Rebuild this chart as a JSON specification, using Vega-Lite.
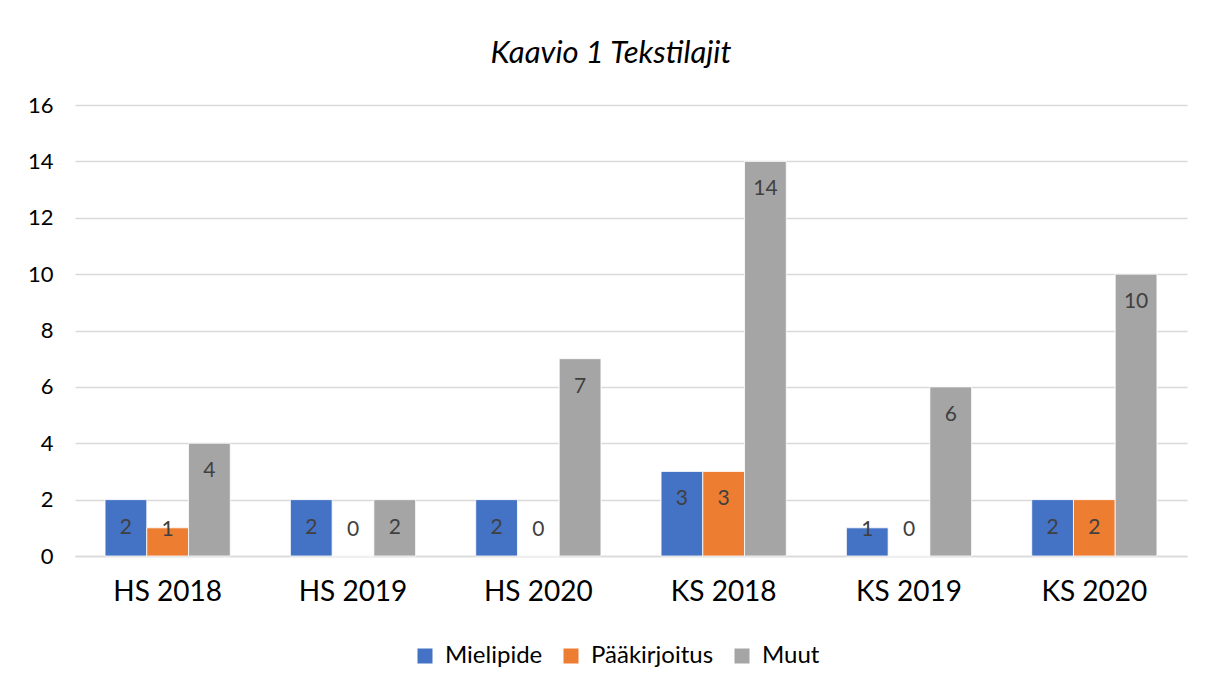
{
  "$schema": "https://vega.github.io/schema/vega-lite/v6.json",
  "width": 1112,
  "height": 451,
  "autosize": {"type": "none"},
  "padding": {"left": 75, "top": 105, "right": 27, "bottom": 130},
  "background": "white",
  "view": {"stroke": null},
  "title": {
    "text": "Kaavio 1 Tekstilajit",
    "font": "Lato",
    "fontStyle": "italic",
    "fontWeight": "normal",
    "fontSize": 31,
    "color": "#000000",
    "anchor": "middle",
    "frame": "group",
    "dx": -20,
    "offset": 24
  },
  "data": {
    "values": [
      {"ryhma": "HS 2018", "sarja": "Mielipide", "arvo": 2},
      {"ryhma": "HS 2018", "sarja": "Pääkirjoitus", "arvo": 1},
      {"ryhma": "HS 2018", "sarja": "Muut", "arvo": 4},
      {"ryhma": "HS 2019", "sarja": "Mielipide", "arvo": 2},
      {"ryhma": "HS 2019", "sarja": "Pääkirjoitus", "arvo": 0},
      {"ryhma": "HS 2019", "sarja": "Muut", "arvo": 2},
      {"ryhma": "HS 2020", "sarja": "Mielipide", "arvo": 2},
      {"ryhma": "HS 2020", "sarja": "Pääkirjoitus", "arvo": 0},
      {"ryhma": "HS 2020", "sarja": "Muut", "arvo": 7},
      {"ryhma": "KS 2018", "sarja": "Mielipide", "arvo": 3},
      {"ryhma": "KS 2018", "sarja": "Pääkirjoitus", "arvo": 3},
      {"ryhma": "KS 2018", "sarja": "Muut", "arvo": 14},
      {"ryhma": "KS 2019", "sarja": "Mielipide", "arvo": 1},
      {"ryhma": "KS 2019", "sarja": "Pääkirjoitus", "arvo": 0},
      {"ryhma": "KS 2019", "sarja": "Muut", "arvo": 6},
      {"ryhma": "KS 2020", "sarja": "Mielipide", "arvo": 2},
      {"ryhma": "KS 2020", "sarja": "Pääkirjoitus", "arvo": 2},
      {"ryhma": "KS 2020", "sarja": "Muut", "arvo": 10}
    ]
  },
  "encoding": {
    "x": {
      "field": "ryhma",
      "type": "nominal",
      "sort": ["HS 2018", "HS 2019", "HS 2020", "KS 2018", "KS 2019", "KS 2020"],
      "scale": {"paddingInner": 0, "paddingOuter": 0},
      "axis": {
        "title": null,
        "labelAngle": 0,
        "labelFont": "Lato",
        "labelFontSize": 28,
        "labelColor": "#000000",
        "labelPadding": 22,
        "ticks": false,
        "domain": true,
        "domainColor": "#D9D9D9",
        "domainWidth": 1.5,
        "grid": false
      }
    },
    "xOffset": {
      "field": "sarja",
      "type": "nominal",
      "sort": ["Mielipide", "Pääkirjoitus", "Muut"],
      "scale": {"paddingInner": 0, "paddingOuter": 0.72}
    }
  },
  "layer": [
    {
      "mark": {"type": "bar", "stroke": "white", "strokeWidth": 0.8},
      "encoding": {
        "y": {
          "field": "arvo",
          "type": "quantitative",
          "scale": {"domain": [0, 16], "nice": false},
          "axis": {
            "title": null,
            "values": [0, 2, 4, 6, 8, 10, 12, 14, 16],
            "labelFont": "Lato",
            "labelFontSize": 22,
            "labelColor": "#000000",
            "labelPadding": 22,
            "ticks": false,
            "domain": false,
            "grid": true,
            "gridColor": "#D9D9D9",
            "gridWidth": 1.5
          }
        },
        "color": {
          "field": "sarja",
          "type": "nominal",
          "sort": ["Mielipide", "Pääkirjoitus", "Muut"],
          "scale": {
            "domain": ["Mielipide", "Pääkirjoitus", "Muut"],
            "range": ["#4472C4", "#ED7D31", "#A5A5A5"]
          },
          "legend": {
            "title": null,
            "orient": "none",
            "legendX": 338,
            "legendY": 539,
            "direction": "horizontal",
            "symbolType": "square",
            "symbolSize": 225,
            "symbolStrokeWidth": 0,
            "labelFont": "Lato",
            "labelFontSize": 24,
            "labelColor": "#000000",
            "labelOffset": 8,
            "columnPadding": 16
          }
        }
      }
    },
    {
      "transform": [{"filter": "datum.arvo >= 2"}],
      "mark": {"type": "text", "baseline": "middle", "dy": 28, "font": "Lato", "fontSize": 21, "color": "#404040"},
      "encoding": {
        "y": {"field": "arvo", "type": "quantitative"},
        "text": {"field": "arvo", "type": "quantitative"}
      }
    },
    {
      "transform": [{"filter": "datum.arvo < 2"}],
      "mark": {"type": "text", "baseline": "middle", "dy": -26, "font": "Lato", "fontSize": 21, "color": "#404040"},
      "encoding": {
        "y": {"datum": 0, "type": "quantitative"},
        "text": {"field": "arvo", "type": "quantitative"}
      }
    }
  ]
}
